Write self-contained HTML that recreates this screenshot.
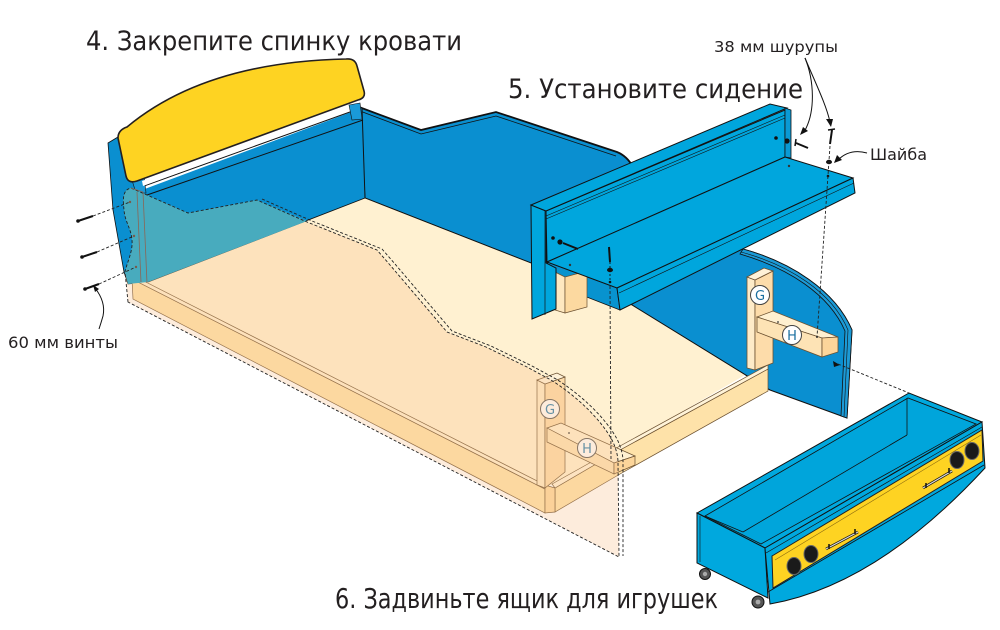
<!DOCTYPE html>
<html><head><meta charset="utf-8"><style>
html,body{margin:0;padding:0;background:#fff;}
svg{display:block}
text{font-family:"DejaVu Sans","Liberation Sans",sans-serif;fill:#231f20}
</style></head><body>
<svg width="1000" height="630" viewBox="0 0 1000 630" xmlns="http://www.w3.org/2000/svg">
<rect width="1000" height="630" fill="#fff"/>

<!-- back wall -->
<path d="M359,107 L421,130 L496,112 L617,152 Q627,156 633,167 L660,205 L743,249 C790,262 835,290 852,330 L847,418 L770,390 L632,305 L531,263 L365,198 Z" fill="#0a8fd0" stroke="#111" stroke-width="1"/>
<polyline points="360,111 421,134 496,116 616,156" fill="none" stroke="#111" stroke-width="0.8"/>
<path d="M359,107 L421,130 L496,112 L617,152 Q627,156 633,167" fill="none" stroke="#111" stroke-width="1.8"/>
<path d="M743,249 C790,262 835,290 852,330 L847,418 L841,416 L845,331 C829,294 788,268 740,254 Z" fill="#1c9ad6" stroke="#111" stroke-width="0.8"/>
<path d="M741,252 C789,265 832,292 848,330 L844,417" fill="none" stroke="#111" stroke-width="0.6"/>
<path d="M833,361 L840,365 L834,367 Z" fill="#111"/>

<!-- headboard inner panel and left post -->
<polygon points="142,190 362,108 365,198 148,282" fill="#0a8fd0"/>
<polygon points="108,143 118,137 140,186 148,282 128,284 124,272 113,210" fill="#0a8fd0" stroke="#111" stroke-width="0.8"/>
<line x1="362" y1="108" x2="365" y2="198" stroke="#111" stroke-width="1"/>
<line x1="144" y1="186" x2="361" y2="108" stroke="#111" stroke-width="1"/>
<line x1="147" y1="195" x2="363" y2="120" stroke="#111" stroke-width="1"/>
<polygon points="131,177 144,175 146,193 136,193" fill="#1a9ad8" stroke="#111" stroke-width="0.6"/>
<polygon points="349,105 360,103 362,119 352,120" fill="#1a9ad8" stroke="#111" stroke-width="0.6"/>

<!-- yellow cushion -->
<path d="M118,138 Q118,130 127,127 Q205,62 346,59 Q355,58 357,66 L364,91 Q366,98 358,100 L137,181 Q128,184 126,176 Z" fill="#fed322" stroke="#231f20" stroke-width="1.6"/>
<polygon points="142,181 330,112 331,117 143,186" fill="#fff"/>

<!-- floor -->
<polygon points="131,276 148,282 365,198 531,263 632,305 745,375 620,448 552,485 545,485" fill="#fff1d1"/>
<line x1="148" y1="282" x2="365" y2="198" stroke="#111" stroke-width="0.9"/>
<polyline points="365,198 531,263 632,305 770,390" fill="none" stroke="#111" stroke-width="0.9"/>

<!-- right end rail -->
<polygon points="555,488 620,450 768,369 768,391 620,474 555,512" fill="#fee2a9" stroke="#6b5030" stroke-width="0.7"/>
<polygon points="552,484 620,446 768,365 768,369 620,450 555,488" fill="#fff3d8" stroke="#6b5030" stroke-width="0.7"/>
<!-- front rail -->
<polygon points="132,279 545,489 545,513 133,299" fill="#fee2a9" stroke="#6b5030" stroke-width="0.7"/>
<polygon points="130,274 545,485 545,489 132,279" fill="#fff0d0" stroke="#6b5030" stroke-width="0.7"/>
<polygon points="545,485 555,488 555,512 545,513" fill="#fdd9a0" stroke="#6b5030" stroke-width="0.7"/>

<!-- left G post + H bar -->
<polygon points="537,380 545,384 545,488 537,485" fill="#feebc8" stroke="#6b5030" stroke-width="0.7"/>
<polygon points="545,384 565,377 565,472 545,488" fill="#fddcaa" stroke="#6b5030" stroke-width="0.7"/>
<polygon points="537,380 557,373 565,377 545,384" fill="#fff2d8" stroke="#6b5030" stroke-width="0.7"/>
<polygon points="547,428 561,423 635,456 614,463" fill="#fff0d0" stroke="#6b5030" stroke-width="0.7"/>
<polygon points="547,428 614,463 614,474 547,442" fill="#fde3b5" stroke="#6b5030" stroke-width="0.7"/>
<polygon points="614,463 635,456 635,465 614,474" fill="#fcd59a" stroke="#6b5030" stroke-width="0.7"/>
<circle cx="569" cy="433" r="0.9" fill="#333"/>
<circle cx="550" cy="409" r="9.5" fill="#fff" stroke="#555" stroke-width="1"/>
<text x="550" y="414" font-size="13" text-anchor="middle" style="fill:#2a7fb0">G</text>
<circle cx="587" cy="448" r="9.5" fill="#fff" stroke="#555" stroke-width="1"/>
<text x="587" y="453" font-size="13" text-anchor="middle" style="fill:#2a7fb0">H</text>

<!-- transparent front panel overlay -->
<path d="M128,302 L125,272 C127,262 133,252 132,240 C131,228 125,222 124,210 C123,200 122,190 131,188 L188,213 L257,200 L307,222 L377,250 L390,265 L447,332 L486,347 L527,367 L551,380 C575,395 600,418 612,440 C617,450 618,458 618,462 L619,557 Z" fill="rgb(248,192,140)" fill-opacity="0.3"/>
<!-- teal part (panel over blue) -->
<path d="M131,188 L188,213 L257,200 L307,221 L148,282 L128,284 L125,272 C127,262 133,252 132,240 C131,228 125,222 124,210 C123,200 122,190 131,188 Z" fill="#48abbe"/>
<path d="M128,302 L125,272 C127,262 133,252 132,240 C131,228 125,222 124,210 C123,200 122,190 131,188 L188,213 L257,200 L307,222 L377,250 L390,265 L447,332 L486,347 L527,367 L551,380 C575,395 600,418 612,440 C617,450 618,458 618,462 L619,557 Z" fill="none" stroke="#222" stroke-width="0.9" stroke-dasharray="3 2"/>
<path d="M262,199 L312,221 L382,249 L395,264 L452,331 L491,346 L532,366 L556,379 C580,394 605,417 617,439 C622,449 623,457 623,461 L623,556" fill="none" stroke="#222" stroke-width="0.9" stroke-dasharray="3 2"/>
<line x1="137" y1="192" x2="141" y2="282" stroke="#8a6656" stroke-width="0.8"/>
<line x1="143" y1="192" x2="147" y2="283" stroke="#8a6656" stroke-width="0.8"/>
<line x1="131" y1="188" x2="143" y2="192" stroke="#8a6656" stroke-width="0.8"/>

<!-- right G post + H bar -->
<polygon points="747,277 755,280 755,370 747,368" fill="#feebc8" stroke="#6b5030" stroke-width="0.8"/>
<polygon points="755,280 773,271 773,363 755,370" fill="#fddcaa" stroke="#6b5030" stroke-width="0.8"/>
<polygon points="747,277 764,268 773,271 755,280" fill="#fff2d8" stroke="#6b5030" stroke-width="0.8"/>
<polygon points="757,317 773,311 838,337 822,338" fill="#fff0d0" stroke="#6b5030" stroke-width="0.8"/>
<polygon points="757,317 822,338 822,357 757,332" fill="#fde3b5" stroke="#6b5030" stroke-width="0.8"/>
<polygon points="822,338 838,337 838,352 822,357" fill="#fcd59a" stroke="#6b5030" stroke-width="0.8"/>
<circle cx="778" cy="322" r="0.9" fill="#333"/>
<circle cx="817" cy="337" r="1" fill="#333"/>
<circle cx="760" cy="295" r="9.5" fill="#fff" stroke="#444" stroke-width="1"/>
<text x="760" y="300" font-size="13" text-anchor="middle" style="fill:#1a6fa0">G</text>
<circle cx="792" cy="335" r="9.5" fill="#fff" stroke="#444" stroke-width="1"/>
<text x="792" y="340" font-size="13" text-anchor="middle" style="fill:#1a6fa0">H</text>

<!-- seat -->
<polygon points="547,262 617,288 620,310 556,285" fill="#0893cf" stroke="#111" stroke-width="0.8"/>
<polygon points="555,272 565,277 565,313 555,310" fill="#fee8c0" stroke="#6b5030" stroke-width="0.7"/>
<polygon points="565,277 587,271 587,307 565,313" fill="#fcd9a0" stroke="#6b5030" stroke-width="0.7"/>
<polygon points="531,205 546,211 546,263 556,268 556,309 532,319" fill="#00a6dd" stroke="#111" stroke-width="1"/>
<line x1="545" y1="211" x2="545" y2="315" stroke="#111" stroke-width="0.7"/>
<polygon points="546,211 785,110 785,157 547,262" fill="#00a6dd" stroke="#111" stroke-width="1"/>
<polygon points="531,205 770,104 787,108 546,211" fill="#00a6dd" stroke="#111" stroke-width="1"/>
<line x1="546" y1="216" x2="785" y2="115" stroke="#111" stroke-width="0.6"/>
<line x1="546" y1="219" x2="785" y2="118" stroke="#111" stroke-width="0.6"/>
<polygon points="785,108 791,110 791,158 785,157" fill="#0a9ad4" stroke="#111" stroke-width="0.8"/>
<polygon points="547,262 785,157 853,178 617,288" fill="#00a6dd" stroke="#111" stroke-width="1"/>
<polygon points="617,288 853,178 855,193 620,310" fill="#00a6dd" stroke="#111" stroke-width="1"/>
<line x1="619" y1="293" x2="854" y2="183" stroke="#111" stroke-width="0.6"/>
<circle cx="570" cy="265" r="1.2" fill="#333"/>
<circle cx="789" cy="166" r="1.2" fill="#333"/>
<!-- seat screws left -->
<circle cx="553" cy="238" r="1.8" fill="#111"/>
<circle cx="560" cy="242" r="2.6" fill="#111"/>
<line x1="563" y1="243" x2="578" y2="249" stroke="#111" stroke-width="2"/>
<line x1="609" y1="247" x2="610" y2="262" stroke="#111" stroke-width="2"/>
<ellipse cx="610" cy="270" rx="3" ry="2.2" fill="#111"/>
<circle cx="610" cy="282" r="1.3" fill="#111"/>
<line x1="610" y1="262" x2="610" y2="282" stroke="#111" stroke-width="0.9" stroke-dasharray="2 2"/>
<line x1="610" y1="286" x2="611" y2="460" stroke="#222" stroke-width="0.9" stroke-dasharray="3 2"/>
<!-- seat screws right -->
<circle cx="776" cy="138" r="1.8" fill="#111"/>
<circle cx="787" cy="141" r="2.6" fill="#111"/>
<line x1="796" y1="143" x2="808" y2="148" stroke="#111" stroke-width="2"/>
<line x1="796" y1="139" x2="795" y2="146" stroke="#111" stroke-width="1.5"/>
<line x1="832" y1="130" x2="830" y2="144" stroke="#111" stroke-width="2"/>
<line x1="828" y1="130" x2="835" y2="129" stroke="#111" stroke-width="1.5"/>
<ellipse cx="829" cy="162" rx="3" ry="2.2" fill="#111"/>
<circle cx="828" cy="176" r="1.3" fill="#111"/>
<line x1="830" y1="146" x2="817" y2="337" stroke="#222" stroke-width="0.9" stroke-dasharray="3 2"/>

<!-- left screws -->
<line x1="78" y1="221" x2="93" y2="216" stroke="#111" stroke-width="2"/>
<circle cx="78" cy="221" r="1.8" fill="#111"/>
<line x1="82" y1="257" x2="97" y2="252" stroke="#111" stroke-width="2"/>
<circle cx="82" cy="257" r="1.8" fill="#111"/>
<line x1="85" y1="289" x2="99" y2="284" stroke="#111" stroke-width="2"/>
<circle cx="85" cy="289" r="1.8" fill="#111"/>
<line x1="93" y1="216" x2="130" y2="202" stroke="#222" stroke-width="0.9" stroke-dasharray="3 2"/>
<line x1="97" y1="252" x2="134" y2="236" stroke="#222" stroke-width="0.9" stroke-dasharray="3 2"/>
<line x1="99" y1="284" x2="136" y2="267" stroke="#222" stroke-width="0.9" stroke-dasharray="3 2"/>
<circle cx="130" cy="202" r="1.2" fill="#7a5a4a"/>
<circle cx="134" cy="236" r="1.2" fill="#7a5a4a"/>
<circle cx="136" cy="267" r="1.2" fill="#7a5a4a"/>
<path d="M95,288 Q106,302 103,316 Q101,323 99,329" fill="none" stroke="#111" stroke-width="1"/>
<path d="M93,285 L99,289 L95,292 Z" fill="#111"/>

<!-- drawer dashed -->
<line x1="838" y1="364" x2="909" y2="393" stroke="#222" stroke-width="0.9" stroke-dasharray="3 2"/>

<!-- drawer -->
<polygon points="697,513 909,393 982,422 765,548" fill="#00a8de" stroke="#111" stroke-width="1"/>
<polygon points="705,516 908,398 976,424 761,544" fill="#00a5db" stroke="#111" stroke-width="0.8"/>
<line x1="705" y1="516" x2="743" y2="532" stroke="#111" stroke-width="0.8"/>
<line x1="743" y1="532" x2="907" y2="435" stroke="#111" stroke-width="0.8"/>
<line x1="907" y1="398" x2="907" y2="435" stroke="#111" stroke-width="0.8"/>
<polygon points="697,513 765,548 768,598 697,563" fill="#00a8de" stroke="#111" stroke-width="1"/>
<line x1="700" y1="516" x2="700" y2="562" stroke="#111" stroke-width="0.6"/>
<path d="M765,548 L982,422 L985,468 Q877,585 770,604 Z" fill="#00a8de" stroke="#111" stroke-width="1"/>
<line x1="766" y1="553" x2="982" y2="427" stroke="#111" stroke-width="0.7"/>
<polygon points="772,556 982,430 983,461 773,588" fill="#fed322" stroke="#231f20" stroke-width="1"/>
<line x1="775" y1="560" x2="981" y2="435" stroke="#8a6a10" stroke-width="0.6"/>
<line x1="768" y1="592" x2="984" y2="465" stroke="#111" stroke-width="0.8"/>
<ellipse cx="794" cy="566" rx="7" ry="8.5" fill="#1a1a1a" stroke="#666" stroke-width="1"/>
<ellipse cx="811" cy="554" rx="7" ry="8.5" fill="#1a1a1a" stroke="#666" stroke-width="1"/>
<ellipse cx="957" cy="460" rx="7" ry="8.5" fill="#1a1a1a" stroke="#666" stroke-width="1"/>
<ellipse cx="972" cy="451" rx="7" ry="8.5" fill="#1a1a1a" stroke="#666" stroke-width="1"/>
<line x1="826" y1="549" x2="858" y2="532" stroke="#111" stroke-width="2.6"/>
<line x1="826" y1="549" x2="858" y2="532" stroke="#ddd" stroke-width="1.2"/>
<line x1="829" y1="544" x2="829" y2="549" stroke="#111" stroke-width="1.5"/>
<line x1="855" y1="529" x2="855" y2="534" stroke="#111" stroke-width="1.5"/>
<line x1="923" y1="488" x2="952" y2="471" stroke="#111" stroke-width="2.6"/>
<line x1="923" y1="488" x2="952" y2="471" stroke="#ddd" stroke-width="1.2"/>
<line x1="926" y1="483" x2="926" y2="488" stroke="#111" stroke-width="1.5"/>
<line x1="949" y1="468" x2="949" y2="473" stroke="#111" stroke-width="1.5"/>
<circle cx="705" cy="574" r="5.5" fill="#555" stroke="#111" stroke-width="1"/>
<circle cx="705" cy="574" r="2.2" fill="#aaa"/>
<circle cx="758" cy="602" r="6" fill="#555" stroke="#111" stroke-width="1"/>
<circle cx="758" cy="602" r="2.4" fill="#aaa"/>

<!-- leaders top right -->
<path d="M805,58 C814,80 816,112 804,132" fill="none" stroke="#111" stroke-width="1"/>
<path d="M800,135 L803,127 L808,131 Z" fill="#111"/>
<path d="M805,58 C815,82 826,104 830,122" fill="none" stroke="#111" stroke-width="1"/>
<path d="M831,127 L826,119 L833,119 Z" fill="#111"/>
<path d="M867,153 C856,150 846,152 838,160" fill="none" stroke="#111" stroke-width="1"/>
<path d="M834,163 L837,155 L842,160 Z" fill="#111"/>

<!-- text -->
<text x="86" y="50" font-size="27" textLength="376" lengthAdjust="spacingAndGlyphs">4. Закрепите спинку кровати</text>
<text x="508" y="98" font-size="27" textLength="295" lengthAdjust="spacingAndGlyphs">5. Установите сидение</text>
<text x="335" y="608" font-size="28" textLength="383" lengthAdjust="spacingAndGlyphs">6. Задвиньте ящик для игрушек</text>
<text x="714" y="52" font-size="15.5" textLength="124" lengthAdjust="spacingAndGlyphs">38 мм шурупы</text>
<text x="870" y="160" font-size="16" textLength="57" lengthAdjust="spacingAndGlyphs">Шайба</text>
<text x="8" y="348" font-size="16" textLength="110" lengthAdjust="spacingAndGlyphs">60 мм винты</text>
</svg>
</body></html>
